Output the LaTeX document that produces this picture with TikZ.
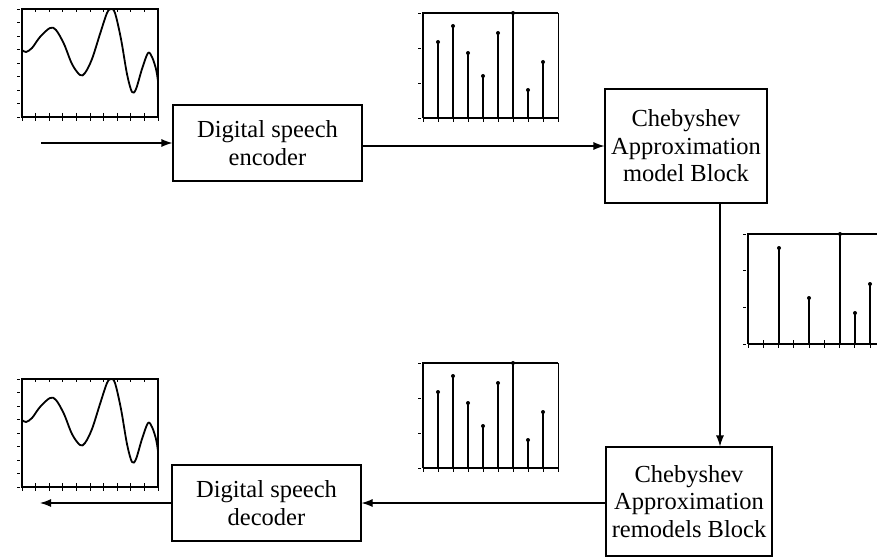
\documentclass[tikz,border=0pt]{standalone}
\usepackage{fontspec}
\setmainfont{Liberation Serif}
\usetikzlibrary{arrows.meta}
\tikzset{
  blk/.style={draw, line width=1.1pt, fill=white, align=center, inner sep=0pt,
    font=\fontsize{24.5}{27.5}\selectfont},
  arr/.style={line width=1.1pt, -{Latex[length=11pt,width=8pt]}},
  ax/.style={line width=1.3pt},
  tk/.style={line width=0.9pt},
  stemline/.style={line width=1.5pt},
  curve/.style={line width=1.8pt, line join=round},
}
\newcommand{\waveplot}[1]{%
  \begin{scope}[shift={#1}]
    \draw[ax] (0,0) rectangle (136,108);
    \foreach \i in {0,...,10} {\draw[tk] ({\i*13.6},104) -- ({\i*13.6},112);
                               \draw[tk] ({\i*13.6},0) -- ({\i*13.6},3);}
    \foreach \v in {0,13.5,...,108} {\draw[tk] (-5,\v) -- (-2,\v);}
    \draw[curve] plot[smooth, tension=0.55] coordinates {
      (0,41) (4,43) (10,39) (18,28) (28,19) (34,21) (42,35) (50,55) (58,66)
      (63,64) (70,50) (78,25) (85,4) (89,0) (93,4) (99,30) (105,65) (110,83)
      (114,80) (120,60) (126,44) (130,48) (134,60) (136,72)};
    \draw[curve] (136,72) -- (136,86);
  \end{scope}}
\newcommand{\stemplot}[1]{%
  \begin{scope}[shift={#1}]
    \draw[ax] (0,105) -- (0,0) -- (135,0);
    \draw[ax] (0,105) -- (135,105);
    \draw[line width=0.6pt] (135,0) -- (135,105);
    \foreach \i in {0,...,9} {\draw[tk] ({\i*15},101) -- ({\i*15},109);}
    \foreach \v in {0,35,70,105} {\draw[tk] (-5,\v) -- (-2,\v);}
    \foreach \x/\h in {15/29,30/13,45/40,60/63,75/20,90/0,105/77,120/49} {
      \draw[stemline] (\x,105) -- (\x,\h);
      \fill (\x,\h) circle (2pt);}
  \end{scope}}
\begin{document}
\begin{tikzpicture}[x=1pt,y=-1pt]
  \useasboundingbox (0,0) rectangle (877,559);
  % plots
  \waveplot{(22,9)}
  \waveplot{(22,379)}
  \stemplot{(423,13)}
  \stemplot{(423,363)}
  \begin{scope}[shift={(748,234)}]
    \draw[ax] (0,110) -- (0,0) -- (129,0);
    \draw[ax] (0,110) -- (129,110);
    \foreach \i in {0,...,8} {\draw[tk] ({\i*15.25},106) -- ({\i*15.25},114);}
    \foreach \v in {0,36.7,73.3,110} {\draw[tk] (-5,\v) -- (-2,\v);}
    \foreach \x/\h in {31/14,61/64,92/0,107/79,122/50} {
      \draw[stemline] (\x,110) -- (\x,\h);
      \fill (\x,\h) circle (2pt);}
  \end{scope}
  % blocks
  \node[blk, minimum width=189pt, minimum height=76pt] (enc) at (267.5,143)
    {Digital speech\\encoder};
  \node[blk, minimum width=162pt, minimum height=114pt] (model) at (686,146)
    {Chebyshev\\Approximation\\model Block};
  \node[blk, minimum width=166pt, minimum height=109pt] (remod) at (689,501.5)
    {Chebyshev\\Approximation\\remodels Block};
  \node[blk, minimum width=189pt, minimum height=76pt] (dec) at (266.5,503)
    {Digital speech\\decoder};
  % connectors
  \coordinate (in) at (41,143);
  \coordinate (out) at (40,503);
  \coordinate (vx) at (720,0);
  \draw[arr] (in) -- (enc.west);
  \draw[arr] ([yshift=-3pt]enc.east) -- ([yshift=-3pt]enc.east -| model.west);
  \draw[arr] (model.south -| vx) -- (remod.north -| vx);
  \draw[arr] (remod.west |- dec.east) -- (dec.east);
  \draw[arr] (dec.west) -- (out);
\end{tikzpicture}
\end{document}
